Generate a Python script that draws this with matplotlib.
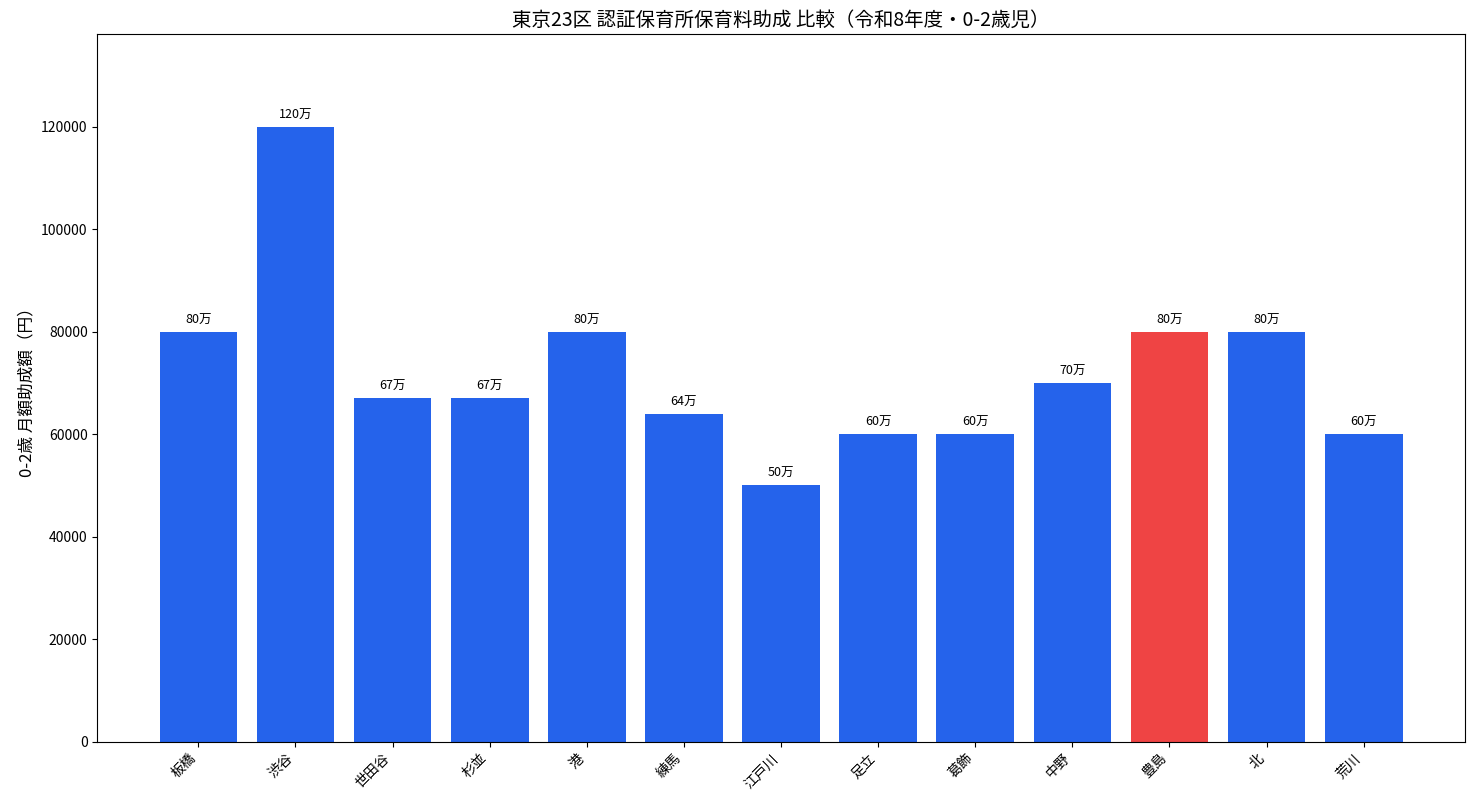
import matplotlib
matplotlib.use('Agg')
import matplotlib.pyplot as plt

plt.rcParams['font.family'] = ['Noto Sans CJK JP', 'DejaVu Sans']

# data
wards = ['板橋', '渋谷', '世田谷', '杉並', '港', '練馬', '江戸川', '足立', '葛飾', '中野', '豊島', '北', '荒川']
amounts = [80000, 120000, 67000, 67000, 80000, 64000, 50000, 60000, 60000, 70000, 80000, 80000, 60000]
value_labels = ['80万', '120万', '67万', '67万', '80万', '64万', '50万', '60万', '60万', '70万', '80万', '80万', '60万']
highlight = '豊島'

colors = ['#EF4444' if w == highlight else '#2563EB' for w in wards]

fig, ax = plt.subplots(figsize=(14.75, 8), dpi=100)
fig.subplots_adjust(left=0.066, right=0.993, top=0.957, bottom=0.073)

bars = ax.bar(range(len(wards)), amounts, color=colors, width=0.8)
for b, lab in zip(bars, value_labels):
    ax.text(b.get_x() + b.get_width() / 2, b.get_height() + 1000, lab,
            ha='center', va='bottom', fontsize=9)

ax.set_xticks(range(len(wards)))
ax.set_xticklabels(wards, rotation=45, ha='right')
ax.set_ylim(0, 138000)
ax.set_ylabel('0-2歳 月額助成額（円）', fontsize=12)
ax.set_title('東京23区 認証保育所保育料助成 比較（令和8年度・0-2歳児）', fontsize=14)

plt.savefig('out.png')
